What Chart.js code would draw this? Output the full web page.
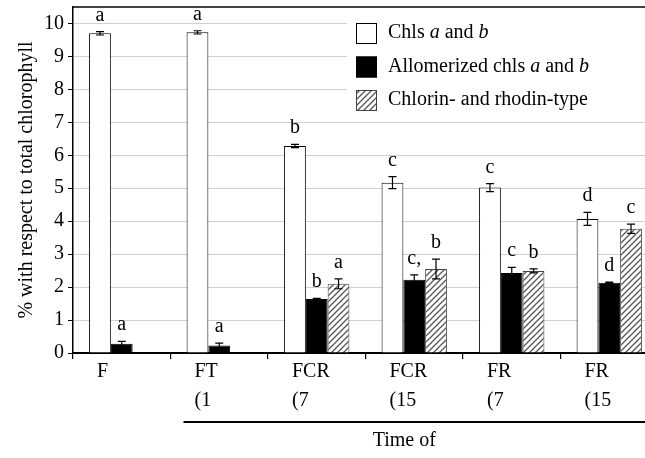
<!DOCTYPE html>
<html>
<head>
<meta charset="utf-8">
<script src="https://cdn.jsdelivr.net/npm/chart.js@4.4.0/dist/chart.umd.min.js"></script>
<style>
  html, body { margin: 0; padding: 0; background: #fff; overflow: hidden; }
  #wrap { width: 660px; height: 458px; }
</style>
</head>
<body>
<div id="wrap"><canvas id="chart" width="660" height="458"></canvas></div>
<script>
const categories = ['F', 'FT', 'FCR', 'FCR', 'FR', 'FR'];
const subLabels = ['', '(1', '(7', '(15', '(7', '(15'];
const yTicks = [0, 1, 2, 3, 4, 5, 6, 7, 8, 9, 10];

const chls = [9.7, 9.73, 6.28, 5.17, 5.02, 4.07];
const chlsErr = [0.05, 0.05, 0.05, 0.18, 0.12, 0.2];
const chlsLetters = ['a', 'a', 'b', 'c', 'c', 'd'];

const allomerized = [0.28, 0.23, 1.64, 2.22, 2.43, 2.13];
const allomerizedErr = [0.07, 0.07, 0.02, 0.15, 0.17, 0.02];
const allomerizedLetters = ['a', 'a', 'b', 'c,', 'c', 'd'];

const chlorin = [0, 0, 2.1, 2.55, 2.49, 3.77];
const chlorinErr = [0, 0, 0.15, 0.3, 0.06, 0.14];
const chlorinLetters = ['', '', 'a', 'b', 'b', 'c'];

const SERIF = '"Liberation Serif", "DejaVu Serif", serif';

// diagonal hatch for the chlorin series
const makeHatch = () => {
    const p = document.createElement('canvas');
    p.width = 6;
    p.height = 6;
    const c = p.getContext('2d');
    c.fillStyle = '#fff';
    c.fillRect(0, 0, 6, 6);
    c.strokeStyle = '#555';
    c.lineWidth = 1.3;
    c.beginPath();
    c.moveTo(-1, 7); c.lineTo(7, -1);
    c.moveTo(-1, 1); c.lineTo(1, -1);
    c.moveTo(5, 7); c.lineTo(7, 5);
    c.stroke();
    return document.getElementById('chart').getContext('2d').createPattern(p, 'repeat');
};
const hatch = makeHatch();

const errors = [chlsErr, allomerizedErr, chlorinErr];
const letters = [chlsLetters, allomerizedLetters, chlorinLetters];

const legendItems = [
    { fill: '#fff', stroke: '#000', parts: [['Chls ', 0], ['a', 1], [' and ', 0], ['b', 1]] },
    { fill: '#000', stroke: '#000', parts: [['Allomerized chls ', 0], ['a', 1], [' and ', 0], ['b', 1]] },
    { fill: hatch, stroke: '#444', parts: [['Chlorin- and rhodin-type', 0]] }
];

const decor = {
    id: 'decor',
    afterDatasetsDraw(chart) {
        const { ctx, scales: { x, y } } = chart;
        ctx.save();
        // error bars and letters
        chart.data.datasets.forEach((ds, i) => {
            chart.getDatasetMeta(i).data.forEach((bar, j) => {
                const v = ds.data[j];
                const e = errors[i][j];
                const top = y.getPixelForValue(v + e);
                if (e > 0) {
                    const bot = y.getPixelForValue(v - e);
                    ctx.strokeStyle = '#000';
                    ctx.lineWidth = 1.2;
                    ctx.beginPath();
                    ctx.moveTo(bar.x, top); ctx.lineTo(bar.x, bot);
                    ctx.moveTo(bar.x - 4, top); ctx.lineTo(bar.x + 4, top);
                    ctx.moveTo(bar.x - 4, bot); ctx.lineTo(bar.x + 4, bot);
                    ctx.stroke();
                }
                if (letters[i][j]) {
                    ctx.fillStyle = '#000';
                    ctx.font = '20px ' + SERIF;
                    ctx.textAlign = 'center';
                    ctx.textBaseline = 'alphabetic';
                    ctx.fillText(letters[i][j], bar.x, top - 11);
                }
            });
        });
        ctx.restore();
    },
    afterDraw(chart) {
        const { ctx, chartArea: area, scales: { x, y } } = chart;
        const catW = x.getPixelForValue(1) - x.getPixelForValue(0);
        ctx.save();

        // top frame line
        ctx.strokeStyle = '#000';
        ctx.lineWidth = 1.5;
        ctx.beginPath();
        ctx.moveTo(area.left, area.top); ctx.lineTo(area.right, area.top);
        ctx.stroke();

        // category labels, two rows, left aligned
        ctx.fillStyle = '#000';
        ctx.font = '20px ' + SERIF;
        ctx.textAlign = 'left';
        ctx.textBaseline = 'middle';
        categories.forEach((c, i) => {
            const lx = x.getPixelForValue(i) - catW / 2 + 24;
            ctx.fillText(c, lx, area.bottom + 19);
            if (subLabels[i]) ctx.fillText(subLabels[i], lx, area.bottom + 48);
        });

        // bracket line and caption
        const lineStart = x.getPixelForValue(1) - catW / 2 + 13;
        ctx.lineWidth = 2;
        ctx.beginPath();
        ctx.moveTo(lineStart, area.bottom + 69); ctx.lineTo(area.right, area.bottom + 69);
        ctx.stroke();
        ctx.textAlign = 'center';
        ctx.fillText('Time of', x.getPixelForValue(3) - 10, area.bottom + 88);

        // legend
        const lx0 = 347;
        ctx.fillStyle = '#fff';
        ctx.fillRect(lx0, area.top + 1, area.right - lx0, 108);
        legendItems.forEach((item, k) => {
            const ty = 23 + k * 33.5;
            ctx.fillStyle = item.fill;
            ctx.fillRect(356, ty, 21, 21);
            ctx.strokeStyle = item.stroke;
            ctx.lineWidth = 1;
            ctx.strokeRect(356.5, ty + 0.5, 20, 20);
            let tx = 388;
            ctx.fillStyle = '#000';
            ctx.textAlign = 'left';
            ctx.textBaseline = 'alphabetic';
            item.parts.forEach(([t, it]) => {
                ctx.font = (it ? 'italic ' : '') + '20px ' + SERIF;
                ctx.fillText(t, tx, ty + 15);
                tx += ctx.measureText(t).width;
            });
        });
        ctx.restore();
    }
};

new Chart(document.getElementById('chart'), {
    type: 'bar',
    data: {
        labels: categories,
        datasets: [
            { label: 'Chls a and b', data: chls, backgroundColor: '#fff', borderColor: '#000', borderWidth: 1 },
            { label: 'Allomerized chls a and b', data: allomerized, backgroundColor: '#000', borderColor: '#000', borderWidth: 1 },
            { label: 'Chlorin- and rhodin-type', data: chlorin, backgroundColor: hatch, borderColor: '#444', borderWidth: 1 }
        ]
    },
    options: {
        responsive: false,
        animation: false,
        devicePixelRatio: 1,
        layout: { padding: { top: 7, right: 2, left: 0, bottom: 0 } },
        datasets: { bar: { categoryPercentage: 0.67, barPercentage: 1 } },
        plugins: { legend: { display: false }, tooltip: { enabled: false } },
        scales: {
            x: {
                offset: true,
                grid: { offset: true, drawOnChartArea: false, drawTicks: true, tickLength: 6, color: '#000', lineWidth: 1.2 },
                border: { color: '#000', width: 2 },
                ticks: { display: false },
                afterFit: s => { s.height = 105; s.paddingLeft = 0; s.paddingRight = 0; }
            },
            y: {
                min: 0,
                max: 10.5,
                afterBuildTicks: s => { s.ticks = yTicks.map(v => ({ value: v })); },
                ticks: { color: '#000', font: { family: SERIF, size: 20 }, padding: 4 },
                grid: {
                    color: c => (c.tick && c.tick.value === 0) ? 'rgba(0,0,0,0)' : '#a0a0a0',
                    tickColor: '#000',
                    tickLength: 5,
                    lineWidth: 1
                },
                border: { color: '#000', width: 1.5, dash: [1, 1] },
                title: {
                    display: true,
                    text: '% with respect to total chlorophyll',
                    color: '#000',
                    font: { family: SERIF, size: 20 },
                    padding: { top: 15, bottom: 0 }
                },
                afterFit: s => { s.width = 73; s.paddingTop = 0; s.paddingBottom = 0; }
            }
        }
    },
    plugins: [decor]
});
</script>
</body>
</html>
